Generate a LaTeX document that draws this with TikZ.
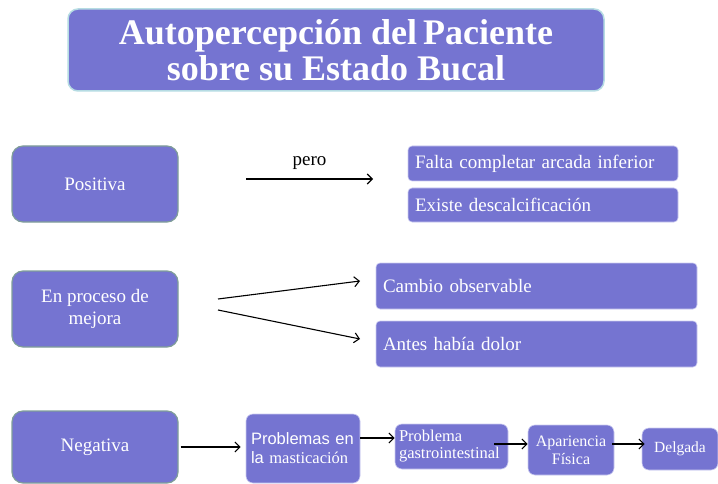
\documentclass[tikz,border=0pt]{standalone}
\usepackage{fontspec}
\setmainfont{Liberation Serif}
\newfontfamily\arialfont{Liberation Sans}
\usetikzlibrary{calc,arrows.meta}

\definecolor{boxfill}{HTML}{7574D1}
\definecolor{titleline}{HTML}{B6DCE3}
\definecolor{leftline}{HTML}{809E99}
\definecolor{itemline}{HTML}{CBCBF0}

\tikzstyle{titlebox}=[rectangle,draw=titleline,line width=1.5pt,fill=boxfill,rounded corners=10pt,text=white,align=center,inner sep=0pt]
\tikzstyle{levelbox}=[rectangle,draw=leftline,line width=1.2pt,fill=boxfill,rounded corners=11pt,text=white,align=center,inner sep=0pt,minimum width=166pt]
\tikzstyle{itembox}=[rectangle,draw=itemline,line width=0.6pt,fill=boxfill,rounded corners=4pt,text=white,align=left,inner xsep=7pt,inner ysep=0pt]
\tikzstyle{stepbox}=[rectangle,draw=itemline,line width=0.6pt,fill=boxfill,rounded corners=7pt,text=white,inner sep=0pt]
\tikzstyle{link} = [draw,line width=1.1pt,->]

\begin{document}
\begin{tikzpicture}[x=1pt, y=-1pt, >={Straight Barb[length=5pt,width=10pt]}, font=\fontsize{19}{22}\selectfont]
		\useasboundingbox (0,0) rectangle (718,484);

		\node [titlebox, minimum width=536pt, minimum height=82pt, font=\fontsize{36}{36}\selectfont\bfseries] (title) at (336,50) {Autopercepción del\,Paciente\\ sobre su Estado Bucal};

		\node [levelbox, minimum height=76pt]                       (positiva)   at (95,184)    {Positiva};
		\node [itembox, text width=256pt, minimum height=35pt]      (falta)      at (543,163.5) {Falta completar arcada inferior};
		\node [itembox, text width=256pt, minimum height=34pt]      (existe)     at (543,205)   {Existe descalcificación};
		\coordinate (pero0) at (246,179);
		\coordinate (pero1) at (373,179);

		\node [levelbox, minimum height=76pt]                       (mejora)     at (95,309)    {En proceso de\\ mejora};
		\node [itembox, text width=307pt, minimum height=46pt]      (cambio)     at (536.5,286) {Cambio observable};
		\node [itembox, text width=307pt, minimum height=46pt]      (antes)      at (536.5,344) {Antes había dolor};
		\coordinate (mej0) at (218,299);
		\coordinate (mej1) at (360,281);
		\coordinate (mej2) at (218,310);
		\coordinate (mej3) at (360,339);

		\node [levelbox, minimum height=72pt]                       (negativa)   at (95,447)    {Negativa};
		\node [stepbox, minimum width=114pt, minimum height=69pt, align=left, text width=104pt, font=\fontsize{16.5}{19}\selectfont\arialfont] (mastic) at (303,448.5) {Problemas en\\ la {\rmfamily masticación}};
		\node [stepbox, minimum width=113pt, minimum height=45pt, align=left, text width=105pt, font=\fontsize{16.5}{17}\selectfont] (gastro) at (451.5,446.5) {Problema\\ gastrointestinal};
		\node [stepbox, minimum width=86pt, minimum height=50pt, align=center, font=\fontsize{16}{18}\selectfont] (apariencia) at (571,450) {Apariencia\\ Física};
		\node [stepbox, minimum width=76pt, minimum height=42pt, font=\fontsize{15.5}{18}\selectfont] (delgada) at (680,449) {Delgada};

		% pero
		\draw [link] (pero0) -- (pero1) node [midway, above=6pt, text=black] (pero) {pero};
		\draw [link] (mej0) -- (mej1);
		\draw [link] (mej2) -- (mej3);

		\draw [link, shorten <=2pt, shorten >=5pt] (negativa.east) -- (negativa.east -| mastic.west);
		\draw [link] ($(mastic.east)+(0,-10.5)$) -- ($(mastic.east -| gastro.west)+(0,-10.5)$);
		\draw [link] ($(gastro.east)+(-14,-2.5)$) -- ($(gastro.east -| apariencia.west)+(0,-2.5)$);
		\draw [link, shorten <=-2pt, shorten >=-3pt] ($(apariencia.east)+(0,-6)$) -- ($(apariencia.east -| delgada.west)+(0,-6)$);
	\end{tikzpicture}
\end{document}
